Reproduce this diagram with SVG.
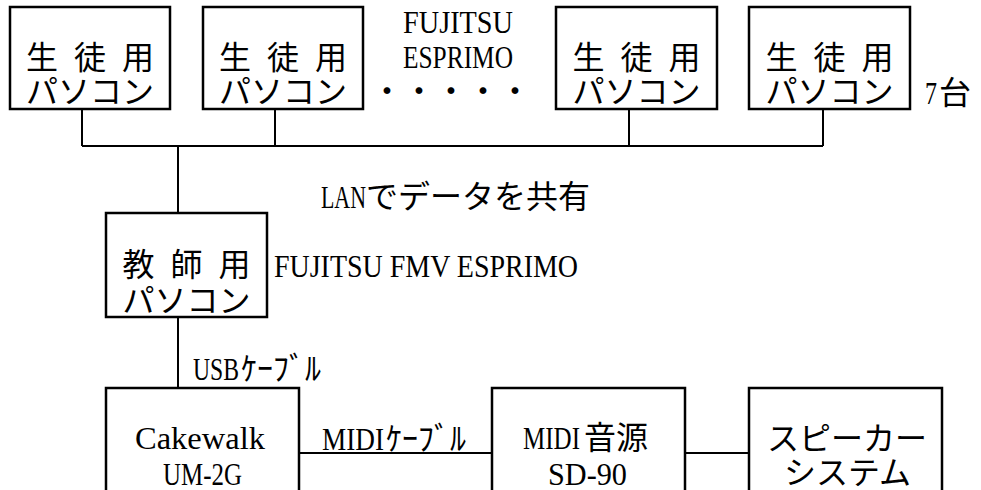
<svg xmlns="http://www.w3.org/2000/svg" width="981" height="490" viewBox="0 0 981 490">
<style>
  .box { fill: #fff; stroke: #000; stroke-width: 2.5; }
  .ln { stroke: #000; stroke-width: 2; fill: none; }
  .jp { font-family: "Noto Sans CJK JP", sans-serif; font-size: 32px; fill: #000; }
  .en { font-family: "Liberation Serif", "Noto Sans CJK JP", serif; font-size: 32px; fill: #000; }
</style>
<rect width="981" height="490" fill="#fff"/>
<g id="connectors">
  <path class="ln" d="M82 109V146M275 109V146M629 109V146M823 109V146M82 146H823M178 146V213"/>
  <path class="ln" d="M178 317V388"/>
  <path class="ln" d="M299 453H492"/>
  <path class="ln" d="M685 453H749"/>
</g>
<g id="student1">
  <rect class="box" x="10" y="7" width="160" height="102"/>
  <text class="jp" x="26 58 74 106 122" y="69">生 徒 用</text>
  <text class="jp" x="90" y="103" text-anchor="middle">パソコン</text>
</g>
<g id="student2">
  <rect class="box" x="203" y="7" width="160" height="102"/>
  <text class="jp" x="219 251 267 299 315" y="69">生 徒 用</text>
  <text class="jp" x="283" y="103" text-anchor="middle">パソコン</text>
</g>
<g id="student3">
  <rect class="box" x="556" y="7" width="161" height="102"/>
  <text class="jp" x="572.5 604.5 620.5 652.5 668.5" y="69">生 徒 用</text>
  <text class="jp" x="636.5" y="103" text-anchor="middle">パソコン</text>
</g>
<g id="student4">
  <rect class="box" x="749" y="7" width="161" height="102"/>
  <text class="jp" x="765.5 797.5 813.5 845.5 861.5" y="69">生 徒 用</text>
  <text class="jp" x="829.5" y="103" text-anchor="middle">パソコン</text>
</g>
<g id="labels-top">
  <text class="en" x="403" y="33" textLength="110" lengthAdjust="spacingAndGlyphs">FUJITSU</text>
  <text class="en" x="403" y="68" textLength="110" lengthAdjust="spacingAndGlyphs">ESPRIMO</text>
  <text class="jp" x="371" y="103">・・・・・</text>
  <text class="en" y="104"><tspan x="925" textLength="12" lengthAdjust="spacingAndGlyphs">7</tspan><tspan class="jp" x="939">台</tspan></text>
  <text class="en" y="208"><tspan x="321" textLength="45" lengthAdjust="spacingAndGlyphs">LAN</tspan><tspan class="jp" x="366">でデータを共有</tspan></text>
</g>
<g id="teacher">
  <rect class="box" x="106" y="213" width="161" height="104"/>
  <text class="jp" x="122.5 154.5 170.5 202.5 218.5" y="276">教 師 用</text>
  <text class="jp" x="186.5" y="312" text-anchor="middle">パソコン</text>
</g>
<text class="en" x="274" y="277" textLength="304" lengthAdjust="spacingAndGlyphs">FUJITSU FMV ESPRIMO</text>
<text class="en" y="380"><tspan x="193" textLength="46" lengthAdjust="spacingAndGlyphs">USB</tspan><tspan class="jp" x="241">ｹｰﾌﾞﾙ</tspan></text>
<g id="cakewalk">
  <rect class="box" x="106" y="388" width="193" height="120"/>
  <text class="en" x="135" y="449" textLength="130" lengthAdjust="spacingAndGlyphs">Cakewalk</text>
  <text class="en" x="163" y="485" textLength="79" lengthAdjust="spacingAndGlyphs">UM-2G</text>
</g>
<text class="en" y="450"><tspan x="322" textLength="62" lengthAdjust="spacingAndGlyphs">MIDI</tspan><tspan class="jp" x="386">ｹｰﾌﾞﾙ</tspan></text>
<g id="midi">
  <rect class="box" x="492" y="388" width="193" height="120"/>
  <text class="en" y="449"><tspan x="523" textLength="57" lengthAdjust="spacingAndGlyphs">MIDI</tspan><tspan class="jp" x="584">音源</tspan></text>
  <text class="en" x="548" y="485" textLength="79" lengthAdjust="spacingAndGlyphs">SD-90</text>
</g>
<g id="speaker">
  <rect class="box" x="749" y="388" width="193" height="120"/>
  <text class="jp" x="767" y="450">スピーカー</text>
  <text class="jp" x="784" y="484">システム</text>
</g>
</svg>
